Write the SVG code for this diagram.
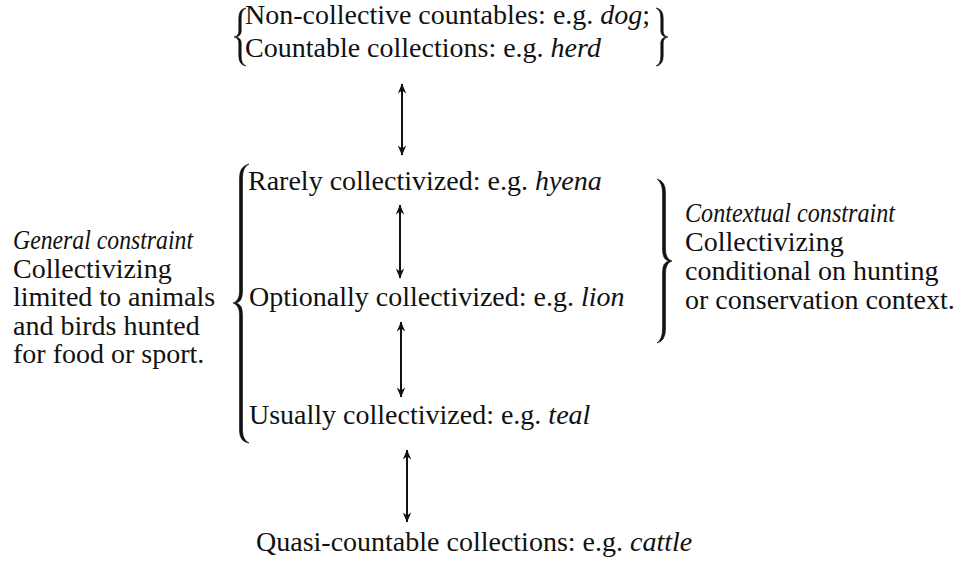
<svg xmlns="http://www.w3.org/2000/svg" width="954" height="561" viewBox="0 0 954 561">
<defs>
<style>
.t{font-family:"Liberation Serif","Times New Roman",Times,serif;font-size:28px;fill:#111}
.i{font-style:italic}
.br{fill:#111;stroke:#111;stroke-width:0.6;stroke-linejoin:round}
.ar{fill:none;stroke:#111;stroke-width:2}
</style>
<marker id="ah" viewBox="0 0 10 10" refX="9.5" refY="5" markerWidth="11" markerHeight="10" markerUnits="userSpaceOnUse" orient="auto-start-reverse">
<path d="M0,0.8 L10,5 L0,9.2 L3,5 z" fill="#111"/>
</marker>
</defs>
<rect width="954" height="561" fill="#fff"/>

<g id="top-block">
<path class="br" d="M246,8 Q238.8,9 238.8,18 L238.8,31 Q238.8,36 234,37 Q238.8,38 238.8,43 L238.8,56 Q238.8,65 246,66 Q241.2,64 241.2,56 L241.2,43 Q241.2,38 236,37 Q241.2,36 241.2,31 L241.2,18 Q241.2,10 246,8 Z"/>
<text class="t" x="245" y="24">Non-collective countables: e.g. <tspan class="i">dog</tspan>;</text>
<text class="t" x="245" y="57">Countable collections: e.g. <tspan class="i">herd</tspan></text>
<path class="br" d="M656,8 Q663.2,9 663.2,18 L663.2,31 Q663.2,36 668,37 Q663.2,38 663.2,43 L663.2,56 Q663.2,65 656,66 Q660.8,64 660.8,56 L660.8,43 Q660.8,38 666,37 Q660.8,36 660.8,31 L660.8,18 Q660.8,10 656,8 Z"/>
</g>

<g id="general-constraint">
<text class="t" x="13" y="249"><tspan class="i" textLength="180" lengthAdjust="spacingAndGlyphs">General constraint</tspan></text>
<text class="t" x="13" y="277.5">Collectivizing</text>
<text class="t" x="13" y="306">limited to animals</text>
<text class="t" x="13" y="334.5">and birds hunted</text>
<text class="t" x="13" y="363">for food or sport.</text>
</g>

<g id="scale-brace">
<path class="br" d="M249,164 Q239.5,166 239.5,178 L239.5,291 Q239.5,301 233,303 Q239.5,305 239.5,315 L239.5,430 Q239.5,442 249,443 Q242.5,440 242.5,430 L242.5,315 Q242.5,304 236,303 Q242.5,302 242.5,291 L242.5,178 Q242.5,167 249,164 Z"/>
</g>

<g id="rarely">
<text class="t" x="248" y="190">Rarely collectivized: e.g. <tspan class="i">hyena</tspan></text>
</g>
<g id="optionally">
<text class="t" x="249" y="306">Optionally collectivized: e.g. <tspan class="i">lion</tspan></text>
</g>
<g id="usually">
<text class="t" x="249" y="424">Usually collectivized: e.g. <tspan class="i">teal</tspan></text>
</g>

<g id="contextual-constraint">
<path class="br" d="M657,179 Q665.5,181 665.5,193 L665.5,249 Q665.5,259 672,261 Q665.5,263 665.5,273 L665.5,329 Q665.5,341 657,343 Q662.5,339 662.5,329 L662.5,273 Q662.5,262 669,261 Q662.5,260 662.5,249 L662.5,193 Q662.5,183 657,179 Z"/>
<text class="t" x="685" y="222"><tspan class="i" textLength="210" lengthAdjust="spacingAndGlyphs">Contextual constraint</tspan></text>
<text class="t" x="685" y="251">Collectivizing</text>
<text class="t" x="685" y="280">conditional  on hunting</text>
<text class="t" x="685" y="309">or conservation context.</text>
</g>

<g id="quasi">
<text class="t" x="256" y="551">Quasi-countable collections: e.g. <tspan class="i">cattle</tspan></text>
</g>

<g id="connectors">
<line class="ar" x1="402" y1="84" x2="402" y2="155" marker-start="url(#ah)" marker-end="url(#ah)"/>
<line class="ar" x1="400" y1="205" x2="400" y2="278" marker-start="url(#ah)" marker-end="url(#ah)"/>
<line class="ar" x1="401" y1="322" x2="401" y2="397" marker-start="url(#ah)" marker-end="url(#ah)"/>
<line class="ar" x1="407" y1="450" x2="407" y2="522" marker-start="url(#ah)" marker-end="url(#ah)"/>
</g>
</svg>
